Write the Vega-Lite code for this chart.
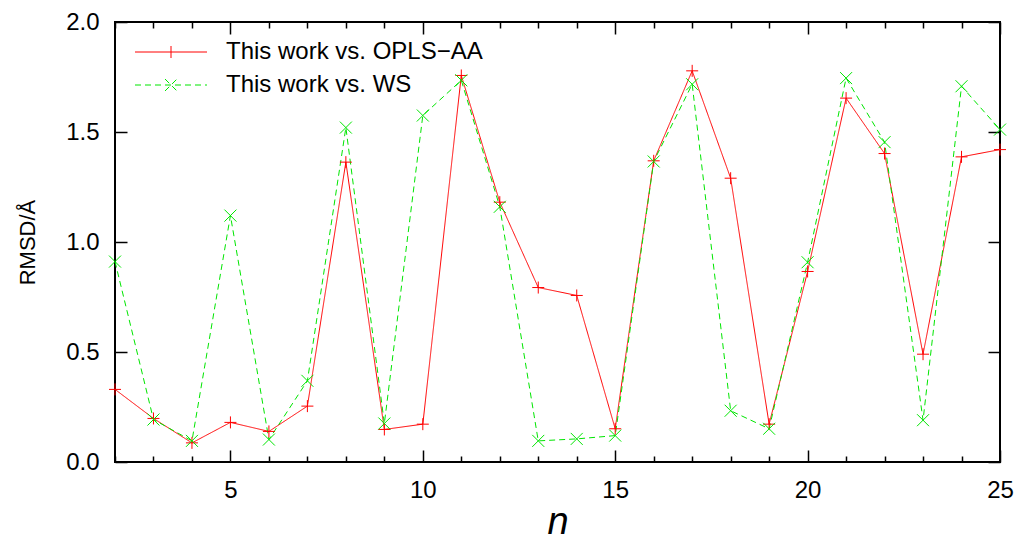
{
  "$schema": "https://vega.github.io/schema/vega-lite/v6.json",
  "width": 885,
  "height": 440,
  "autosize": {"type": "none"},
  "padding": {"left": 115, "top": 22, "right": 21, "bottom": 81},
  "background": "white",
  "config": {
    "view": {"stroke": "black", "strokeWidth": 2},
    "font": "Liberation Sans",
    "axis": {"grid": false, "domain": false, "tickColor": "black", "tickWidth": 1.5, "labelFont": "Liberation Sans", "labelFontSize": 24, "labelColor": "black", "titleColor": "black", "titleFont": "Liberation Sans", "titleFontWeight": "normal"}
  },
  "data": {"values": [
    {"n": 2, "series": "This work vs. OPLS−AA", "rmsd": 0.33},
    {"n": 3, "series": "This work vs. OPLS−AA", "rmsd": 0.198},
    {"n": 4, "series": "This work vs. OPLS−AA", "rmsd": 0.087},
    {"n": 5, "series": "This work vs. OPLS−AA", "rmsd": 0.18},
    {"n": 6, "series": "This work vs. OPLS−AA", "rmsd": 0.139},
    {"n": 7, "series": "This work vs. OPLS−AA", "rmsd": 0.254},
    {"n": 8, "series": "This work vs. OPLS−AA", "rmsd": 1.363},
    {"n": 9, "series": "This work vs. OPLS−AA", "rmsd": 0.148},
    {"n": 10, "series": "This work vs. OPLS−AA", "rmsd": 0.172},
    {"n": 11, "series": "This work vs. OPLS−AA", "rmsd": 1.757},
    {"n": 12, "series": "This work vs. OPLS−AA", "rmsd": 1.181},
    {"n": 13, "series": "This work vs. OPLS−AA", "rmsd": 0.793},
    {"n": 14, "series": "This work vs. OPLS−AA", "rmsd": 0.757},
    {"n": 15, "series": "This work vs. OPLS−AA", "rmsd": 0.151},
    {"n": 16, "series": "This work vs. OPLS−AA", "rmsd": 1.369},
    {"n": 17, "series": "This work vs. OPLS−AA", "rmsd": 1.778},
    {"n": 18, "series": "This work vs. OPLS−AA", "rmsd": 1.29},
    {"n": 19, "series": "This work vs. OPLS−AA", "rmsd": 0.172},
    {"n": 20, "series": "This work vs. OPLS−AA", "rmsd": 0.866},
    {"n": 21, "series": "This work vs. OPLS−AA", "rmsd": 1.654},
    {"n": 22, "series": "This work vs. OPLS−AA", "rmsd": 1.402},
    {"n": 23, "series": "This work vs. OPLS−AA", "rmsd": 0.49},
    {"n": 24, "series": "This work vs. OPLS−AA", "rmsd": 1.387},
    {"n": 25, "series": "This work vs. OPLS−AA", "rmsd": 1.42},
    {"n": 2, "series": "This work vs. WS", "rmsd": 0.911},
    {"n": 3, "series": "This work vs. WS", "rmsd": 0.193},
    {"n": 4, "series": "This work vs. WS", "rmsd": 0.096},
    {"n": 5, "series": "This work vs. WS", "rmsd": 1.12},
    {"n": 6, "series": "This work vs. WS", "rmsd": 0.102},
    {"n": 7, "series": "This work vs. WS", "rmsd": 0.369},
    {"n": 8, "series": "This work vs. WS", "rmsd": 1.52},
    {"n": 9, "series": "This work vs. WS", "rmsd": 0.175},
    {"n": 10, "series": "This work vs. WS", "rmsd": 1.575},
    {"n": 11, "series": "This work vs. WS", "rmsd": 1.735},
    {"n": 12, "series": "This work vs. WS", "rmsd": 1.16},
    {"n": 13, "series": "This work vs. WS", "rmsd": 0.096},
    {"n": 14, "series": "This work vs. WS", "rmsd": 0.105},
    {"n": 15, "series": "This work vs. WS", "rmsd": 0.12},
    {"n": 16, "series": "This work vs. WS", "rmsd": 1.366},
    {"n": 17, "series": "This work vs. WS", "rmsd": 1.717},
    {"n": 18, "series": "This work vs. WS", "rmsd": 0.233},
    {"n": 19, "series": "This work vs. WS", "rmsd": 0.151},
    {"n": 20, "series": "This work vs. WS", "rmsd": 0.908},
    {"n": 21, "series": "This work vs. WS", "rmsd": 1.745},
    {"n": 22, "series": "This work vs. WS", "rmsd": 1.454},
    {"n": 23, "series": "This work vs. WS", "rmsd": 0.19},
    {"n": 24, "series": "This work vs. WS", "rmsd": 1.708},
    {"n": 25, "series": "This work vs. WS", "rmsd": 1.511}
  ]},
  "resolve": {"axis": {"x": "independent", "y": "independent"}},
  "layer": [
    {
      "mark": {"type": "line", "strokeWidth": 1, "clip": true},
      "encoding": {
        "x": {"field": "n", "type": "quantitative", "scale": {"domain": [2, 25], "nice": false, "zero": false},
          "axis": {"orient": "bottom", "values": [2,3,4,5,6,7,8,9,10,11,12,13,14,15,16,17,18,19,20,21,22,23,24,25],
            "labelExpr": "datum.value % 5 === 0 ? datum.label : ''",
            "tickSize": {"condition": {"test": "datum.value % 5 === 0", "value": -12}, "value": -6},
            "labelPadding": 28, "title": "n", "titleFontSize": 38, "titleFontStyle": "italic", "titlePadding": 1, "labelFlush": false}},
        "y": {"field": "rmsd", "type": "quantitative", "scale": {"domain": [0, 2], "nice": false},
          "axis": {"orient": "left", "values": [0, 0.5, 1, 1.5, 2], "format": ".1f", "tickSize": -12, "labelPadding": 28,
            "title": "RMSD/Å", "titleFontSize": 22, "titlePadding": 26, "labelFlush": false}},
        "color": {"field": "series", "type": "nominal", "scale": {"domain": ["This work vs. OPLS−AA", "This work vs. WS"], "range": ["#ff0000", "#00e600"]},
          "legend": {"title": null, "orient": "none", "legendX": 44, "legendY": 18, "padding": 0, "labelFontSize": 24, "labelFont": "Liberation Sans", "labelColor": "black", "labelLimit": 0,
            "symbolSize": 144, "labelOffset": 43, "rowPadding": 9, "symbolStrokeWidth": 1,
            "encode": {"symbols": {"update": {"shape": {"signal": "datum.value === 'This work vs. WS' ? 'M-6,0H6M-1,-1L1,1M-1,1L1,-1' : 'M-6,0H6M0,-1V1'"}}}}}},
        "strokeDash": {"field": "series", "type": "nominal", "scale": {"domain": ["This work vs. OPLS−AA", "This work vs. WS"], "range": [[1, 0], [6, 4]]},
          "legend": {"title": null}}
      }
    },
    {
      "transform": [{"filter": "datum.series === 'This work vs. OPLS−AA'"}],
      "mark": {"type": "point", "filled": false, "strokeWidth": 1, "size": 144, "opacity": 1, "color": "#ff0000", "shape": "M-1,0H1M0,-1V1", "clip": false},
      "encoding": {
        "x": {"field": "n", "type": "quantitative",
          "axis": {"orient": "top", "values": [2,3,4,5,6,7,8,9,10,11,12,13,14,15,16,17,18,19,20,21,22,23,24,25], "labels": false, "title": null,
            "tickSize": {"condition": {"test": "datum.value % 5 === 0", "value": -12}, "value": -6}}},
        "y": {"field": "rmsd", "type": "quantitative",
          "axis": {"orient": "right", "values": [0, 0.5, 1, 1.5, 2], "labels": false, "title": null, "tickSize": -12}}
      }
    },
    {
      "transform": [{"filter": "datum.series === 'This work vs. WS'"}],
      "mark": {"type": "point", "filled": false, "strokeWidth": 1, "size": 144, "opacity": 1, "color": "#00e600", "shape": "M-1,-1L1,1M-1,1L1,-1", "clip": false},
      "encoding": {
        "x": {"field": "n", "type": "quantitative", "axis": null},
        "y": {"field": "rmsd", "type": "quantitative", "axis": null}
      }
    }
  ]
}
